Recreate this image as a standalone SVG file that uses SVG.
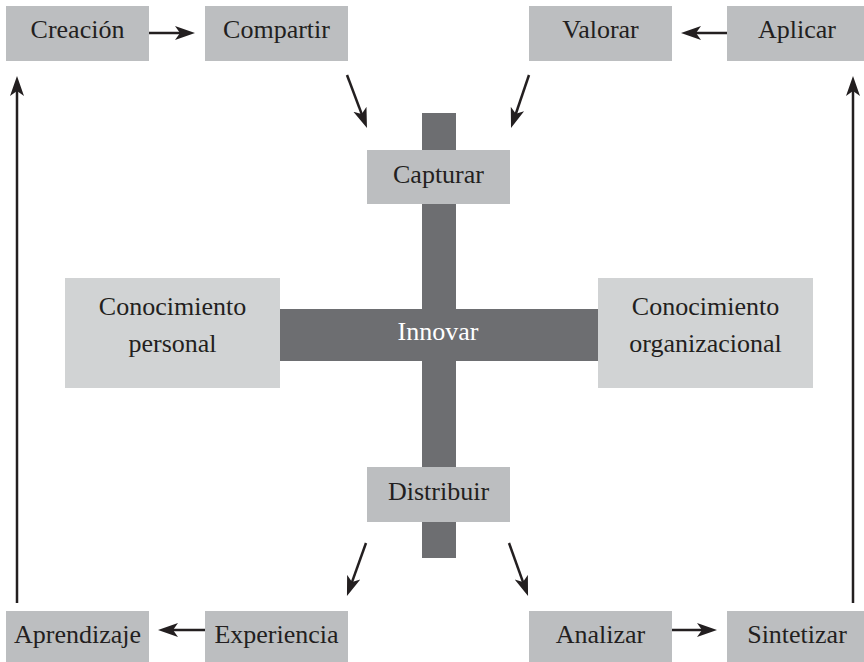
<svg xmlns="http://www.w3.org/2000/svg" width="864" height="662" viewBox="0 0 864 662">
<defs>
<style>
.box{fill:#bcbec0}
.big{fill:#d1d3d4}
.bar{fill:#6d6e71}
.t{font-family:"Liberation Serif","Times New Roman",serif;font-size:26px;fill:#231f20;text-anchor:middle}
.w{fill:#ffffff}
.c{stroke:#231f20;stroke-width:2.5;fill:none;marker-end:url(#ah)}
</style>
<marker id="ah" markerUnits="userSpaceOnUse" markerWidth="22" markerHeight="16" viewBox="0 0 22 16" refX="11" refY="8" orient="auto">
<path d="M0,1 L20,8 L0,15 L5,8 z" fill="#231f20"/>
</marker>
</defs>
<rect width="864" height="662" fill="#ffffff"/>
<g id="cross">
<rect class="bar" x="422" y="113" width="34" height="445"/>
<rect class="bar" x="280" y="309" width="318" height="52"/>
</g>
<g id="innovar"><text class="t w" x="438" y="340">Innovar</text></g>
<g id="creacion"><rect class="box" x="6" y="6" width="143" height="55"/><text class="t" x="77.5" y="38">Creación</text></g>
<g id="compartir"><rect class="box" x="205" y="6" width="143" height="55"/><text class="t" x="276.5" y="38">Compartir</text></g>
<g id="valorar"><rect class="box" x="529" y="6" width="143" height="55"/><text class="t" x="600.5" y="38">Valorar</text></g>
<g id="aplicar"><rect class="box" x="727" y="6" width="137" height="55"/><text class="t" x="797" y="38">Aplicar</text></g>
<g id="capturar"><rect class="box" x="367" y="150" width="143" height="54"/><text class="t" x="438.5" y="183">Capturar</text></g>
<g id="distribuir"><rect class="box" x="367" y="467" width="143" height="55"/><text class="t" x="438.5" y="500">Distribuir</text></g>
<g id="personal"><rect class="big" x="65" y="278" width="215" height="110"/><text class="t" x="172.5" y="315">Conocimiento</text><text class="t" x="172.5" y="352">personal</text></g>
<g id="organizacional"><rect class="big" x="598" y="278" width="215" height="110"/><text class="t" x="705.5" y="315">Conocimiento</text><text class="t" x="705.5" y="352">organizacional</text></g>
<g id="aprendizaje"><rect class="box" x="6" y="611" width="143" height="51"/><text class="t" x="77.5" y="643">Aprendizaje</text></g>
<g id="experiencia"><rect class="box" x="205" y="611" width="143" height="51"/><text class="t" x="276.5" y="643">Experiencia</text></g>
<g id="analizar"><rect class="box" x="529" y="611" width="143" height="51"/><text class="t" x="600.5" y="643">Analizar</text></g>
<g id="sintetizar"><rect class="box" x="727" y="611" width="137" height="51"/><text class="t" x="797" y="643">Sintetizar</text></g>
<g id="connectors">
<line class="c" x1="149" y1="33" x2="186" y2="33"/>
<line class="c" x1="727" y1="33" x2="690" y2="33"/>
<line class="c" x1="205" y1="630" x2="167" y2="630"/>
<line class="c" x1="672" y1="630" x2="708" y2="630"/>
<line class="c" x1="17" y1="603" x2="17" y2="85"/>
<line class="c" x1="853" y1="603" x2="853" y2="85"/>
<line class="c" x1="347" y1="75" x2="363.8" y2="119.6"/>
<line class="c" x1="529" y1="75" x2="513.9" y2="119.5"/>
<line class="c" x1="366" y1="543" x2="350" y2="587.6"/>
<line class="c" x1="509" y1="543" x2="525" y2="587.6"/>
</g>
</svg>
